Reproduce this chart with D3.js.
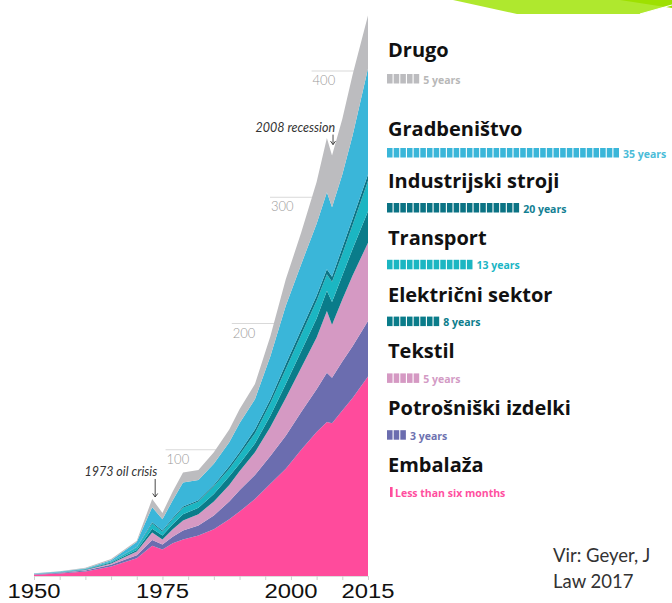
<!DOCTYPE html>
<html><head><meta charset="utf-8">
<script src="https://cdn.jsdelivr.net/npm/d3@7"></script>
<style>body{margin:0;background:#fff;overflow:hidden}svg{display:block}</style>
</head><body>
<svg id="c" width="672" height="603"></svg>
<script>
// ---- data (million tonnes) ----
const years      = [1950,1955,1960,1965,1970,1973,1975,1977,1979,1982,1985,1988,1990,1993,1996,1999,2002,2005,2007,2008,2010,2012,2015];
const embalaza   = [1.0,2.0,3.5,7.5,14,24,21,26,29,32,37,45,51,61,73,85,100,114,122,121,131,141,158];
const potrosniski= [0.3,0.5,0.8,1.5,2.5,4.5,4,5,7,8,11,14,17,19,22,26,30,34,39,36,39,41,44];
const tekstil    = [0.2,0.3,0.5,1.0,3,6,4,6,8,9,11,13,15,18,23,30,35,41,49,42,49,56,62];
const elektricni = [0.1,0.2,0.3,0.6,1,3,3,4,5,5,6,7,6,7,9,11,13,15,16,18,19,21,25];
const transport  = [0.1,0.2,0.3,0.6,2,4,3,4,5,5,6,6,7,8,10,12,13,14,13,16,17,19,24];
const industrija = [0.05,0.05,0.1,0.2,0.5,1,1,1,1,1,1,2,2,3,3,4,4,4,4,4,5,5,5];
const gradbenistvo=[0.15,0.25,0.5,1.1,4,12,9,14,19,16,17,19,23,24,34,46,52,57,61,55,58,66,84];
const drugo      = [0.3,0.3,0.5,1.0,1,6.5,5,7,8,8,9,10,11,12,16,21,25,33,43,41,44,48,42];

const categories = ["Embalaža","Potrošniški izdelki","Tekstil","Električni sektor","Transport","Industrijski stroji","Gradbeništvo","Drugo"];
const seriesValues = [embalaza,potrosniski,tekstil,elektricni,transport,industrija,gradbenistvo,drugo];
const lifetimeYears = [0.5,3,5,8,13,20,35,5];
const lifetimeLabels = ["Less than six months","3 years","5 years","8 years","13 years","20 years","35 years","5 years"];
const yTicks = [100,200,300,400];
const xMinorTicks = [1950,1955,1960,1965,1970,1975,1980,1985,1990,1995,2000,2005,2010,2015];
const xTickLabels = [1950,1975,2000,2015];
const annotations = [{year:1973,label:"1973 oil crisis"},{year:2008,label:"2008 recession"}];
const sourceLines = ["Vir: Geyer, J","Law 2017"];

// ---- styles ----
const colors = ["#ff4b9c","#6b6daf","#d599c3","#0a7c8a","#1bb6c2","#0b7384","#3ab6d9","#bcbcbf"];
const textColors = ["#ff4f9f","#6e72b0","#d39bc5","#0c7d8c","#1ab5c5","#137f93","#4bbcd8","#b8b8b8"];

const svg = d3.select("#c");

// decorative green band at top right
svg.append("polygon").attr("points","453,0 517,14 640,14 672,5 672,0").attr("fill","#afe82e");
svg.append("polygon").attr("points","620,0 672,8 672,0").attr("fill","#9ee000");
svg.append("line").attr("x1",640).attr("y1",14).attr("x2",672).attr("y2",5).attr("stroke","#fff").attr("stroke-width",1.2);

const x = d3.scaleLinear().domain([1950,2015]).range([34,368]);
const y = d3.scaleLinear().domain([0,400]).range([576,71]);

const rows = years.map((yr,i)=>{const r={year:yr}; categories.forEach((c,k)=>r[c]=seriesValues[k][i]); return r;});
const stack = d3.stack().keys(categories)(rows);
const totals = rows.map(r=>d3.sum(categories,c=>r[c]));

// gridlines with labels, starting left of where the total crosses
function crossYear(v){
  for(let i=1;i<years.length;i++){ if(totals[i]>=v && totals[i-1]<v){ const t=(v-totals[i-1])/(totals[i]-totals[i-1]); return years[i-1]+t*(years[i]-years[i-1]); } }
  return 2015;
}
const grid = svg.append("g");
yTicks.forEach(v=>{
  const x0 = x(crossYear(v)) - (v===100 ? 50 : 42);
  grid.append("line").attr("x1",x0).attr("x2",x(2015)).attr("y1",y(v)).attr("y2",y(v)).attr("stroke","#d9d9d9").attr("stroke-width",1);
  grid.append("text").attr("x",x0+1).attr("y",y(v)+14).text(v)
    .attr("font-family","Lato").attr("font-weight",300).attr("font-size",13).attr("fill","#9a9a9a");
});

// axis ticks
const axis = svg.append("g").attr("transform",`translate(0,${y(0)})`)
  .call(d3.axisBottom(x).tickValues(xMinorTicks).tickSize(4).tickFormat(""));
axis.select(".domain").attr("stroke","#dddddd");
axis.selectAll(".tick line").attr("stroke","#cfcfcf");

// stacked areas
const area = d3.area().x(d=>x(d.data.year)).y0(d=>y(d[0])).y1(d=>y(d[1])).curve(d3.curveLinear);
svg.append("g").selectAll("path").data(stack).join("path")
  .attr("d",area).attr("fill",(d,i)=>colors[i]);

// x labels
svg.append("g").selectAll("text").data(xTickLabels).join("text")
  .attr("x",d=>x(d)).attr("y",598).attr("text-anchor","middle")
  .attr("font-family","Liberation Sans, Arial").attr("font-size",20).attr("fill","#111")
  .attr("textLength",53).attr("lengthAdjust","spacingAndGlyphs").text(d=>d);

// annotations
annotations.forEach(a=>{
  const i = years.indexOf(a.year);
  const top = y(totals[i]);
  const early = a.year===1973;
  const ax = x(a.year) + (early?3:1);
  const g = svg.append("g");
  g.append("text").attr("x",ax+2).attr("y",top-(early?23:24)).attr("text-anchor","end")
    .attr("font-family","Lato").attr("font-style","italic").attr("font-size",12.5).attr("fill","#333").text(a.label);
  const y1 = top-(early?20:21), y2 = top-(early?2:11);
  g.append("line").attr("x1",ax).attr("x2",ax).attr("y1",y1).attr("y2",y2).attr("stroke","#333").attr("stroke-width",0.9);
  g.append("path").attr("d",`M${ax-2.5},${y2-3.5}L${ax},${y2}L${ax+2.5},${y2-3.5}`).attr("fill","none").attr("stroke","#333").attr("stroke-width",0.9);
});

// legend (top to bottom = top of stack to bottom)
const legendOrder = d3.range(categories.length).reverse();
const baseline = r => r===0 ? 57 : (r===1 ? 136 : 188 + (r-2)*56.8);
const segW = 6.66, lx = 387;
const lg = svg.append("g");
legendOrder.forEach((k,r)=>{
  const b = baseline(r);
  lg.append("text").attr("x",lx+1).attr("y",b).text(categories[k])
    .attr("font-family","Open Sans").attr("font-weight",700).attr("font-size",20).attr("fill","#111");
  const barTop = b + (r===0?17:(r===1?12:15));
  const n = Math.round(lifetimeYears[k]);
  let endX;
  if(lifetimeYears[k] < 1){
    lg.append("rect").attr("x",lx+3).attr("y",barTop).attr("width",2.6).attr("height",10).attr("fill",colors[k]);
    endX = lx+8;
  } else {
    lg.append("g").selectAll("rect").data(d3.range(n)).join("rect")
      .attr("x",j=>lx+j*segW).attr("y",barTop).attr("width",segW-1.1).attr("height",9.5).attr("fill",colors[k]);
    endX = lx + n*segW + 3;
  }
  lg.append("text").attr("x",endX).attr("y",barTop+9.5).text(lifetimeLabels[k])
    .attr("font-family","Open Sans").attr("font-weight",700).attr("font-size",10.5).attr("fill",textColors[k]);
});

// source
svg.append("g").selectAll("text").data(sourceLines).join("text")
  .attr("x",553).attr("y",(d,i)=>562+i*26).text(d=>d)
  .attr("font-family","Lato").attr("font-size",18.5).attr("fill","#333");
</script>
</body></html>
